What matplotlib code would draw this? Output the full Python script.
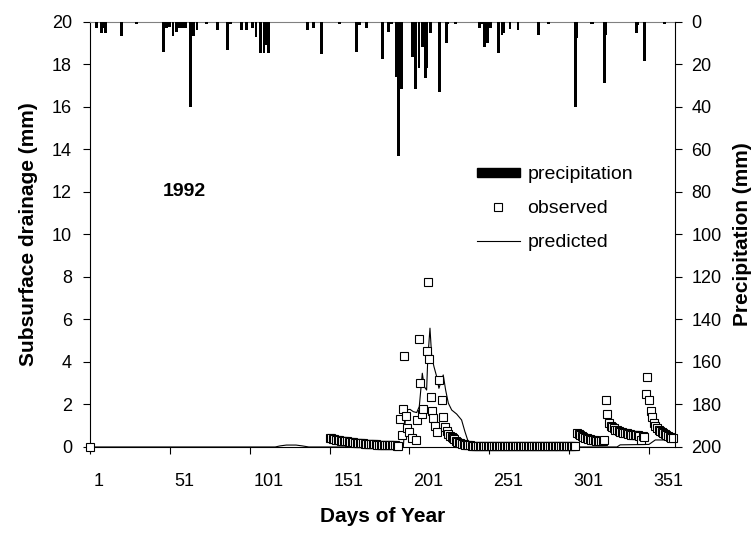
import numpy as np
import matplotlib
matplotlib.use('Agg')
import matplotlib.pyplot as plt
import matplotlib.transforms as mtransforms
from matplotlib.lines import Line2D
from matplotlib.patches import Patch

plt.rcParams['font.family'] = ['Liberation Sans', 'DejaVu Sans']

# daily precipitation (mm), drawn hanging from the top on the right axis
precip_day = [5, 8, 9, 11, 21, 30, 47, 48, 49, 51, 53, 55, 57, 59, 61, 64, 66, 68, 74, 81,
              87, 89, 96, 99, 103, 105, 108, 110, 111, 113, 137, 141, 146, 157, 168, 170, 174,
              184, 188, 190, 193, 194, 196, 203, 205, 207, 209, 211, 212, 214, 220, 224, 225,
              230, 245, 246, 248, 250, 252, 257, 259, 260, 264, 269, 282, 288, 305, 306, 315,
              316, 323, 324, 343, 344, 348, 361]
precip_mm = [3.0, 5.3, 3.0, 5.3, 6.6, 1.1, 14.0, 3.0, 3.0, 2.5, 6.6, 4.5, 3.0, 3.0, 3.0, 40.0,
             6.6, 4.0, 1.0, 3.8, 13.0, 1.0, 3.8, 3.8, 2.8, 7.3, 14.5, 14.5, 11.0, 14.5, 3.8, 2.8,
             15.0, 1.0, 14.0, 1.5, 2.8, 17.6, 4.5, 1.0, 26.0, 63.0, 31.7, 16.3, 31.7, 21.8, 11.6,
             26.5, 21.8, 5.3, 32.8, 9.7, 1.0, 1.0, 2.8, 1.0, 11.6, 9.7, 2.8, 14.6, 6.0, 5.0, 3.5,
             4.0, 6.0, 1.0, 40.0, 7.5, 1.0, 1.0, 28.5, 6.0, 5.0, 1.5, 18.4, 1.0]

# observed subsurface drainage (mm)
obs_day_start = [1]
obs_val_start = [0.0]

obs_day_spring = list(range(151, 195))
obs_val_spring = [0.42, 0.40, 0.38, 0.36, 0.35, 0.33, 0.32, 0.30, 0.29, 0.28,
                  0.27, 0.26, 0.25, 0.24, 0.23, 0.22, 0.21, 0.20, 0.19, 0.18,
                  0.18, 0.17, 0.16, 0.15, 0.15, 0.14, 0.13, 0.13, 0.12, 0.12,
                  0.11, 0.11, 0.10, 0.10, 0.09, 0.09, 0.08, 0.08, 0.08, 0.07,
                  0.07, 0.07, 0.06, 0.06]

obs_day_summer = [195.1, 196.2, 196.8, 197.8, 198.9, 199.7, 201.0, 202.5, 205.0, 206.0,
                  207.0, 207.6, 208.7, 209.7, 211.8, 212.5, 213.3, 214.3, 214.9, 216.0,
                  217.0, 218.5, 219.7, 221.2, 222.2, 223.3, 224.4, 225.4, 226.5, 227.5, 228.5]
obs_val_summer = [1.3, 0.55, 1.8, 4.3, 1.45, 0.9, 0.7, 0.4, 0.35, 1.25,
                  5.1, 3.0, 1.55, 1.8, 4.5, 7.75, 4.15, 2.35, 1.7, 1.35,
                  1.0, 0.7, 3.15, 2.2, 1.4, 0.95, 0.75, 0.6, 0.52, 0.48, 0.42]

obs_day_fall = list(range(229, 306))
obs_val_fall = [0.36, 0.30, 0.25, 0.20, 0.17, 0.14, 0.12, 0.10, 0.08, 0.07,
                0.07, 0.06, 0.06, 0.06, 0.05, 0.05, 0.05, 0.06, 0.05, 0.05,
                0.05, 0.04, 0.05, 0.05, 0.04, 0.04, 0.05, 0.05, 0.04, 0.04,
                0.04, 0.05, 0.06, 0.05, 0.05, 0.04, 0.04, 0.05, 0.05, 0.04,
                0.04, 0.04, 0.05, 0.06, 0.06, 0.05, 0.05, 0.04, 0.04, 0.05,
                0.06, 0.06, 0.05, 0.05, 0.05, 0.04, 0.04, 0.05, 0.05, 0.05,
                0.04, 0.04, 0.05, 0.05, 0.04, 0.04, 0.05, 0.06, 0.06, 0.05,
                0.05, 0.04, 0.04, 0.05, 0.05, 0.04, 0.04]

obs_day_winter = list(range(306, 367))
obs_val_winter = [0.65, 0.60, 0.55, 0.50, 0.46, 0.42, 0.40, 0.38, 0.36, 0.34,
                  0.32, 0.31, 0.30, 0.29, 0.28, 0.27, 0.26, 0.35, 2.20, 1.55,
                  1.15, 1.00, 0.95, 0.88, 0.82, 0.78, 0.75, 0.72, 0.70, 0.68,
                  0.66, 0.64, 0.62, 0.60, 0.58, 0.57, 0.56, 0.55, 0.54, 0.52,
                  0.35, 0.50, 0.48, 2.50, 3.30, 2.20, 1.70, 1.40, 1.15, 1.00,
                  0.90, 0.82, 0.76, 0.70, 0.65, 0.60, 0.55, 0.50, 0.46, 0.42, 0.40]

obs_day = obs_day_start + obs_day_spring + obs_day_summer + obs_day_fall + obs_day_winter
obs_val = obs_val_start + obs_val_spring + obs_val_summer + obs_val_fall + obs_val_winter

# predicted subsurface drainage (mm)
pred_day = [1, 117, 120, 124, 130, 134, 138, 197.2, 198.9, 201.4, 203.5, 205.6, 207.2, 209.1,
            210.3, 211.8, 212.5, 213.9, 215.0, 216.4, 218.1, 219.5, 220.8, 222.2, 223.7, 225.4,
            227.5, 230.6, 233.7, 235.8, 237.5, 238.9, 331, 333, 351, 355, 366]
pred_val = [0, 0, 0.05, 0.09, 0.09, 0.05, 0, 0, 1.74, 1.77, 1.66, 1.62, 1.9, 3.47,
            2.84, 2.68, 4.1, 5.59, 4.25, 3.78, 3.31, 2.76, 3.07, 3.39, 2.68, 2.06,
            1.74, 1.55, 1.27, 0.72, 0.33, 0, 0, 0.1, 0.12, 0.33, 0.33]

day_ticks = [1, 51, 101, 151, 201, 251, 301, 351]

fig = plt.figure(figsize=(7.56, 5.33), dpi=100)
ax = fig.add_axes([0.119, 0.1614, 0.7738, 0.7974])
ax2 = ax.twinx()

ax2.bar(precip_day, precip_mm, width=1.8, color='black', zorder=2)
ax2.set_ylim(200, 0)
ax2.set_yticks(np.arange(0, 201, 20))

ax.plot(pred_day, pred_val, color='black', lw=0.8, zorder=3)
ax.plot(obs_day, obs_val, ls='none', marker='s', ms=5.5, mfc='white', mec='black',
        mew=0.8, zorder=4, clip_on=False)

ax.set_xlim(1, 367.3)
ax.set_ylim(0, 20)
ax.set_yticks(np.arange(0, 21, 2))
ax.set_xticks(day_ticks)

for a in (ax, ax2):
    a.tick_params(direction='out', length=5, width=0.8, labelsize=13, colors='black')
ax.tick_params(axis='x', pad=14)
ax.tick_params(axis='y', pad=8)
ax2.tick_params(axis='y', pad=7)

shift = mtransforms.ScaledTranslation(0.04, 0, fig.dpi_scale_trans)
for lbl in ax.get_xticklabels():
    lbl.set_horizontalalignment('left')
    lbl.set_transform(lbl.get_transform() + shift)

ax.spines['top'].set_color('#808080')
ax.spines['top'].set_linewidth(0.8)
ax.spines['right'].set_visible(False)
for s in ('top', 'left', 'bottom'):
    ax2.spines[s].set_visible(False)

ax.set_xlabel('Days of Year', fontsize=15, fontweight='bold', labelpad=12)
ax.set_ylabel('Subsurface drainage (mm)', fontsize=15, fontweight='bold', labelpad=10)
ax2.set_ylabel('Precipitation (mm)', fontsize=15, fontweight='bold', labelpad=8)

ax.text(60, 12, '1992', fontsize=14, fontweight='bold', ha='center', va='center')

handles = [Patch(facecolor='black', edgecolor='black', label='precipitation'),
           Line2D([], [], ls='none', marker='s', ms=5.5, mfc='white', mec='black',
                  mew=0.8, label='observed'),
           Line2D([], [], color='black', lw=0.8, label='predicted')]
ax2.legend(handles=handles, loc='upper left', bbox_to_anchor=(0.648, 0.679), frameon=False,
           fontsize=14, handlelength=2.2, handleheight=0.35, labelspacing=0.86,
           handletextpad=0.4, borderaxespad=0)

fig.savefig('out.png', dpi=100)
